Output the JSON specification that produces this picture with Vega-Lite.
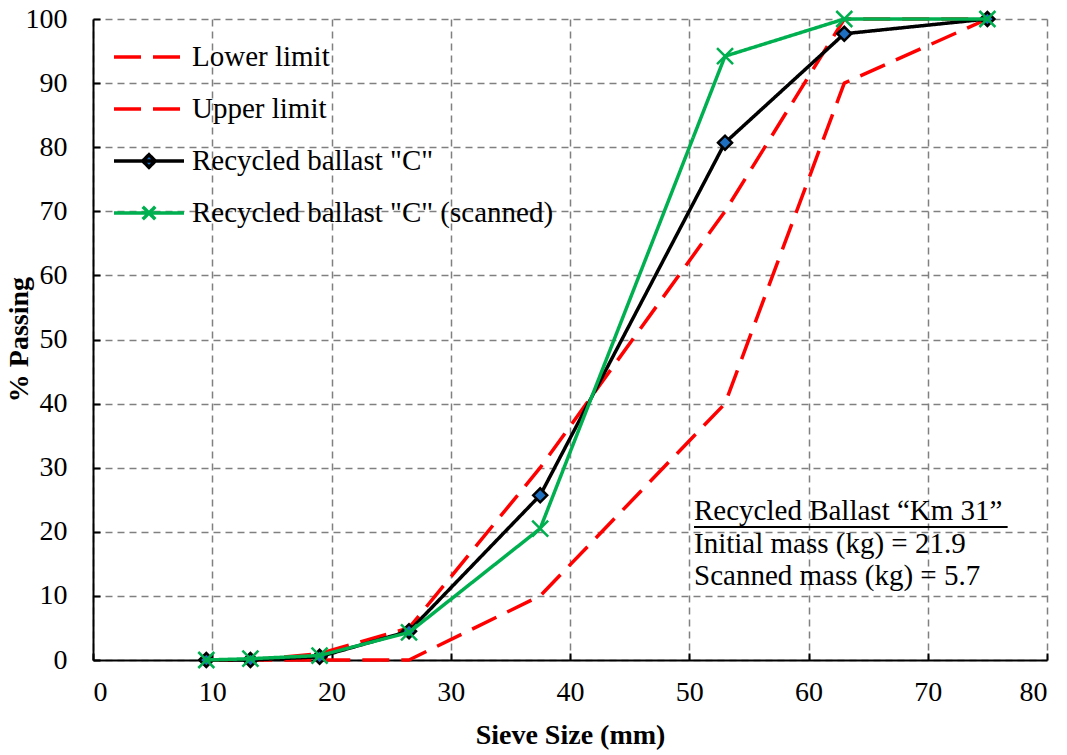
{
  "$schema": "https://vega.github.io/schema/vega-lite/v6.json",
  "width": 954,
  "height": 641,
  "autosize": {"type": "none"},
  "padding": {"left": 93, "top": 19, "right": 20, "bottom": 95},
  "background": "white",
  "view": {"stroke": null},
  "config": {
    "font": "Liberation Serif",
    "axis": {
      "grid": true,
      "gridColor": "#808080",
      "gridDash": [7, 5],
      "gridWidth": 1.5,
      "domainColor": "black",
      "domainWidth": 2,
      "tickColor": "black",
      "tickWidth": 2,
      "tickSize": -7,
      "labelFont": "Liberation Serif",
      "labelFontSize": 28,
      "labelColor": "black",
      "titleFont": "Liberation Serif",
      "titleFontSize": 28,
      "titleFontWeight": "bold",
      "titleColor": "black"
    }
  },
  "datasets": {
    "grading": [
      {"series": "Lower limit", "size": 9.5, "pass": 0},
      {"series": "Lower limit", "size": 13.2, "pass": 0},
      {"series": "Lower limit", "size": 19, "pass": 0},
      {"series": "Lower limit", "size": 26.5, "pass": 0},
      {"series": "Lower limit", "size": 37.5, "pass": 10},
      {"series": "Lower limit", "size": 53, "pass": 40},
      {"series": "Lower limit", "size": 63, "pass": 90},
      {"series": "Lower limit", "size": 75, "pass": 100},
      {"series": "Upper limit", "size": 9.5, "pass": 0},
      {"series": "Upper limit", "size": 13.2, "pass": 0},
      {"series": "Upper limit", "size": 19, "pass": 1},
      {"series": "Upper limit", "size": 26.5, "pass": 5},
      {"series": "Upper limit", "size": 37.5, "pass": 30},
      {"series": "Upper limit", "size": 53, "pass": 70},
      {"series": "Upper limit", "size": 63, "pass": 100},
      {"series": "Upper limit", "size": 75, "pass": 100},
      {"series": "Recycled ballast \"C\"", "size": 9.5, "pass": 0},
      {"series": "Recycled ballast \"C\"", "size": 13.2, "pass": 0},
      {"series": "Recycled ballast \"C\"", "size": 19, "pass": 0.5},
      {"series": "Recycled ballast \"C\"", "size": 26.5, "pass": 4.5},
      {"series": "Recycled ballast \"C\"", "size": 37.5, "pass": 25.7},
      {"series": "Recycled ballast \"C\"", "size": 53, "pass": 80.7},
      {"series": "Recycled ballast \"C\"", "size": 63, "pass": 97.7},
      {"series": "Recycled ballast \"C\"", "size": 75, "pass": 100},
      {"series": "Recycled ballast \"C\" (scanned)", "size": 9.5, "pass": 0},
      {"series": "Recycled ballast \"C\" (scanned)", "size": 13.2, "pass": 0.2},
      {"series": "Recycled ballast \"C\" (scanned)", "size": 19, "pass": 0.7},
      {"series": "Recycled ballast \"C\" (scanned)", "size": 26.5, "pass": 4.3},
      {"series": "Recycled ballast \"C\" (scanned)", "size": 37.5, "pass": 20.5},
      {"series": "Recycled ballast \"C\" (scanned)", "size": 53, "pass": 94.2},
      {"series": "Recycled ballast \"C\" (scanned)", "size": 63, "pass": 100},
      {"series": "Recycled ballast \"C\" (scanned)", "size": 75, "pass": 100}
    ]
  },
  "layer": [
    {
      "data": {"name": "grading"},
      "transform": [{"filter": "indexof(datum.series, 'scanned') < 0"}],
      "mark": {"type": "line", "strokeWidth": 3.5, "strokeCap": "butt", "strokeJoin": "round"},
      "encoding": {
        "x": {
          "field": "size",
          "type": "quantitative",
          "title": "Sieve Size (mm)",
          "scale": {"domain": [0, 80], "nice": false, "zero": false},
          "axis": {
            "values": [0, 10, 20, 30, 40, 50, 60, 70, 80],
            "labelPadding": 25,
            "titleBaseline": "alphabetic",
            "titleY": 83
          }
        },
        "y": {
          "field": "pass",
          "type": "quantitative",
          "title": "% Passing",
          "scale": {"domain": [0, 100], "nice": false},
          "axis": {
            "values": [0, 10, 20, 30, 40, 50, 60, 70, 80, 90, 100],
            "labelPadding": 33,
            "titleAngle": -90,
            "titleAlign": "center",
            "titleBaseline": "alphabetic",
            "titleX": -66,
            "titleY": 320
          }
        },
        "color": {
          "field": "series",
          "type": "nominal",
          "scale": {
            "domain": ["Lower limit", "Upper limit", "Recycled ballast \"C\"", "Recycled ballast \"C\" (scanned)"],
            "range": ["#FF0000", "#FF0000", "#000000", "#00B050"]
          },
          "legend": {
            "orient": "none",
            "legendX": 40,
            "legendY": 22,
            "title": null,
            "padding": 0,
            "labelFont": "Liberation Serif",
            "labelFontSize": 29,
            "labelColor": "black",
            "labelOffset": 27,
            "labelLimit": 600,
            "rowPadding": 21,
            "symbolSize": 784,
            "symbolStrokeWidth": 3.5,
            "encode": {
              "symbols": {
                "update": {
                  "shape": {"signal": "indexof(datum.value, 'scanned') >= 0 ? 'M-2.5,0H2.5M-0.45,-0.45L0.45,0.45M-0.45,0.45L0.45,-0.45' : (indexof(datum.value, 'ballast') >= 0 ? 'M-2.5,0H2.5M0,-0.45L0.45,0L0,0.45L-0.45,0Z' : 'M-2.5,0H2.5')"},
                  "fill": {"signal": "(indexof(datum.value, 'ballast') >= 0 && indexof(datum.value, 'scanned') < 0) ? '#1F6FC0' : 'transparent'"}
                }
              }
            }
          }
        },
        "strokeDash": {
          "field": "series",
          "type": "nominal",
          "scale": {
            "domain": ["Lower limit", "Upper limit", "Recycled ballast \"C\"", "Recycled ballast \"C\" (scanned)"],
            "range": [[27, 12], [27, 12], [1, 0], [1, 0]]
          },
          "legend": null
        }
      }
    },
    {
      "data": {"name": "grading"},
      "transform": [{"filter": "datum.series === 'Recycled ballast \"C\"'"}],
      "mark": {"type": "point", "shape": "diamond", "filled": true, "fill": "#1F6FC0", "stroke": "black", "strokeWidth": 2.5, "size": 196, "opacity": 1},
      "encoding": {
        "x": {"field": "size", "type": "quantitative"},
        "y": {"field": "pass", "type": "quantitative"}
      }
    },
    {
      "data": {"name": "grading"},
      "transform": [{"filter": "indexof(datum.series, 'scanned') >= 0"}],
      "mark": {"type": "line", "strokeWidth": 3.5, "strokeJoin": "round"},
      "encoding": {
        "x": {"field": "size", "type": "quantitative"},
        "y": {"field": "pass", "type": "quantitative"},
        "color": {"field": "series", "type": "nominal"},
        "strokeDash": {"field": "series", "type": "nominal"}
      }
    },
    {
      "data": {"name": "grading"},
      "transform": [{"filter": "indexof(datum.series, 'scanned') >= 0"}],
      "mark": {"type": "point", "shape": "M-1,-1L1,1M-1,1L1,-1", "filled": false, "stroke": "#00B050", "strokeWidth": 2.5, "size": 256, "opacity": 1},
      "encoding": {
        "x": {"field": "size", "type": "quantitative"},
        "y": {"field": "pass", "type": "quantitative"}
      }
    },
    {
      "data": {"values": [{"note": "Km 31"}]},
      "mark": {"type": "text", "align": "left", "baseline": "alphabetic", "font": "Liberation Serif", "fontSize": 29, "lineHeight": 32.5, "color": "black"},
      "encoding": {
        "x": {"datum": 50.4},
        "y": {"datum": 21.84},
        "text": {"value": ["Recycled Ballast “Km 31”", "Initial mass (kg) = 21.9", "Scanned mass (kg) = 5.7"]}
      }
    },
    {
      "data": {"values": [{"note": "underline"}]},
      "mark": {"type": "rule", "color": "black", "strokeWidth": 2},
      "encoding": {
        "x": {"datum": 50.4},
        "x2": {"datum": 76.7},
        "y": {"datum": 20.75}
      }
    }
  ]
}
